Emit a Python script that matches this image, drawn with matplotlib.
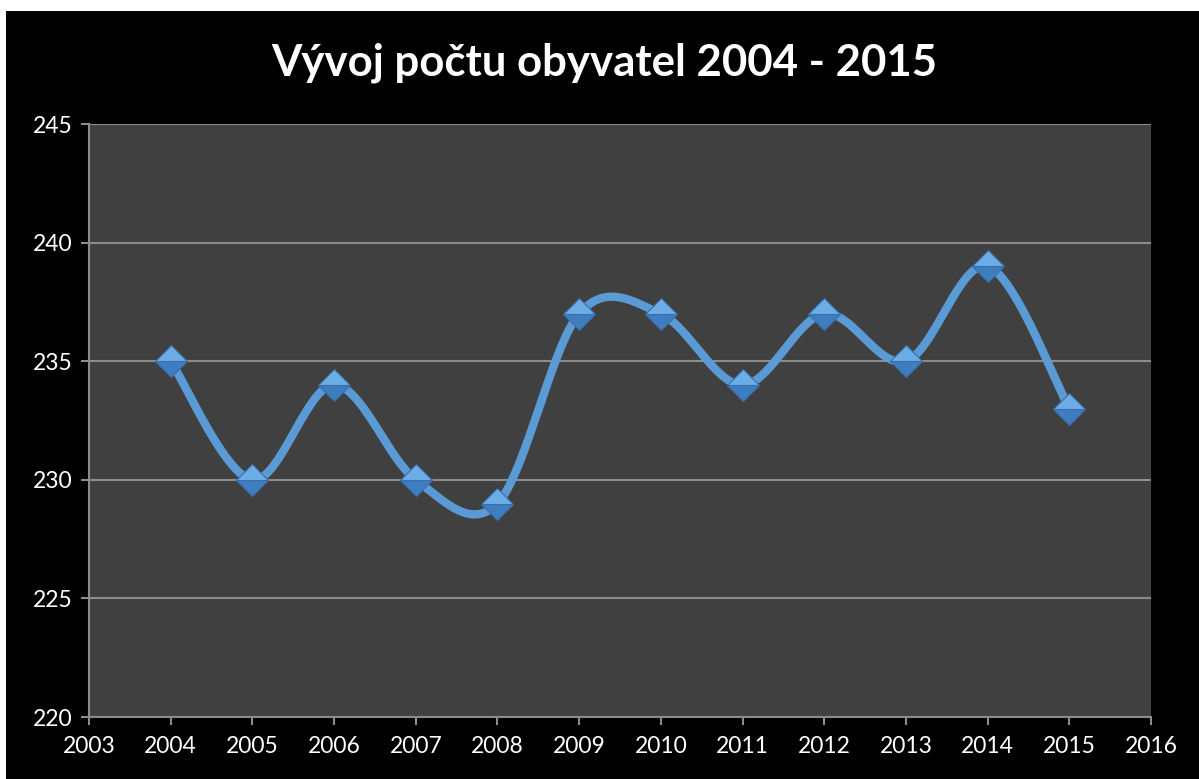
import numpy as np
import matplotlib
matplotlib.use('Agg')
import matplotlib.pyplot as plt
from matplotlib.patches import Rectangle

# data
years = [2004, 2005, 2006, 2007, 2008, 2009, 2010, 2011, 2012, 2013, 2014, 2015]
population = [235, 230, 234, 230, 229, 237, 237, 234, 237, 235, 239, 233]
title = 'Vývoj počtu obyvatel 2004 - 2015'

plt.rcParams['font.family'] = ['Lato', 'DejaVu Sans']


def smooth(x, y, n=40):
    # Excel-like smoothed line (Catmull-Rom as cubic Bezier)
    x = np.asarray(x, float)
    y = np.asarray(y, float)
    px = np.concatenate([[x[0]], x, [x[-1]]])
    py = np.concatenate([[y[0]], y, [y[-1]]])
    xs, ys = [], []
    t = np.linspace(0, 1, n)
    for i in range(1, len(px) - 2):
        p0 = np.array([px[i], py[i]])
        p3 = np.array([px[i + 1], py[i + 1]])
        p1 = p0 + (np.array([px[i + 1], py[i + 1]]) - np.array([px[i - 1], py[i - 1]])) / 6
        p2 = p3 - (np.array([px[i + 2], py[i + 2]]) - np.array([px[i], py[i]])) / 6
        b = ((1 - t) ** 3)[:, None] * p0 + (3 * (1 - t) ** 2 * t)[:, None] * p1 \
            + (3 * (1 - t) * t ** 2)[:, None] * p2 + (t ** 3)[:, None] * p3
        xs.extend(b[:, 0])
        ys.extend(b[:, 1])
    return xs, ys


fig = plt.figure(figsize=(11.99, 7.79), dpi=100, facecolor='white')
fig.patches.append(Rectangle((6 / 1199, 0), 1, 1 - 11 / 779, transform=fig.transFigure,
                             facecolor='black', edgecolor='none', zorder=-1))

ax = fig.add_axes([89 / 1199, 1 - 717 / 779, (1151 - 89) / 1199, (717 - 124) / 779])
ax.set_zorder(2)
ax.set_facecolor('#404040')

sx, sy = smooth(years, population)
ax.plot(sx, sy, color='#5B9BD5', lw=6, solid_capstyle='round', zorder=3)
ax.plot(years, population, linestyle='none', marker='D', markersize=16,
        fillstyle='bottom', markerfacecolor='#3E7DC0', markerfacecoloralt='#6DADE6',
        markeredgecolor='#3A6EA8', markeredgewidth=0.8, zorder=4)

ax.set_xlim(2003, 2016)
ax.set_ylim(220, 245)
ax.set_xticks(range(2003, 2017))
ax.set_yticks(range(220, 246, 5))
ax.grid(axis='y', color='#8C8C8C', lw=1.5)
ax.set_axisbelow(True)

for s in ['top', 'right']:
    ax.spines[s].set_visible(False)
for s in ['left', 'bottom']:
    ax.spines[s].set_color('#8C8C8C')
    ax.spines[s].set_linewidth(1.5)
ax.tick_params(colors='#8C8C8C', labelcolor='white', labelsize=16.5, length=6, width=1.5)
ax.tick_params(axis='x', pad=8)
ax.tick_params(axis='y', pad=6)

fig.text(0.504, 1 - 63 / 779, title, color='white', fontsize=31.5, fontweight='bold',
         ha='center', va='center')

fig.savefig('out.png', dpi=100, facecolor=fig.get_facecolor())
